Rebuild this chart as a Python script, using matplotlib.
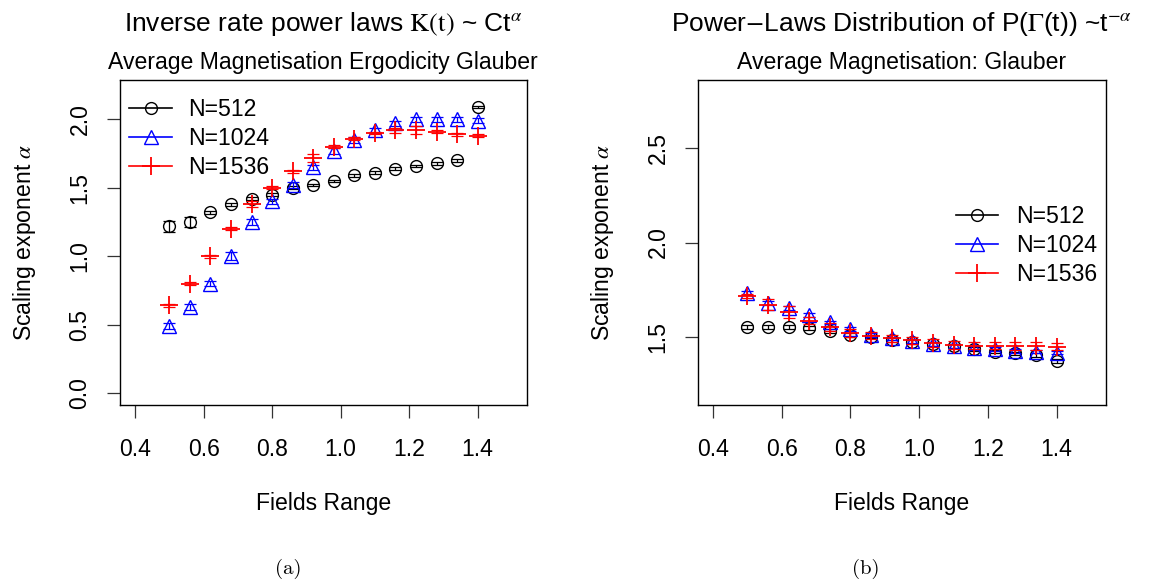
import matplotlib
matplotlib.use("Agg")
import matplotlib.pyplot as plt
import numpy as np

plt.rcParams['font.family'] = ['Liberation Sans', 'DejaVu Sans']
plt.rcParams['mathtext.fontset'] = 'stix'

# ---------------- data ----------------
fields = [0.50, 0.56, 0.62, 0.68, 0.74, 0.80, 0.86, 0.92, 0.98, 1.04, 1.10, 1.16, 1.22, 1.28, 1.34, 1.40]
labels = ["N=512", "N=1024", "N=1536"]

# Panel (a): inverse rate power-law exponents
a_512 = [1.22, 1.25, 1.32, 1.38, 1.42, 1.45, 1.50, 1.52, 1.55, 1.59, 1.61, 1.64, 1.66, 1.68, 1.70, 2.09]
a_512_err = [0.04, 0.04, 0.01, 0.01, 0.01, 0.01, 0.01, 0.01, 0.01, 0.01, 0.01, 0.01, 0.01, 0.01, 0.01, 0.01]
a_1024 = [0.49, 0.63, 0.80, 1.00, 1.25, 1.40, 1.52, 1.65, 1.77, 1.85, 1.92, 1.97, 2.00, 2.00, 2.00, 1.99]
a_1024_err = [0.02, 0.02, 0.02, 0.03, 0.02, 0.02, 0.02, 0.02, 0.02, 0.02, 0.02, 0.02, 0.02, 0.02, 0.02, 0.02]
a_1536 = [0.64, 0.80, 1.00, 1.20, 1.38, 1.50, 1.62, 1.72, 1.80, 1.86, 1.90, 1.92, 1.92, 1.91, 1.89, 1.88]
a_1536_err = [0.01, 0.01, 0.01, 0.01, 0.02, 0.01, 0.01, 0.03, 0.01, 0.01, 0.01, 0.02, 0.03, 0.01, 0.01, 0.01]

# Panel (b): power-law distribution exponents
b_512 = [1.55, 1.55, 1.55, 1.545, 1.53, 1.51, 1.50, 1.48, 1.47, 1.46, 1.45, 1.435, 1.42, 1.41, 1.40, 1.37]
b_512_err = [0.01] * 16
b_1024 = [1.73, 1.68, 1.65, 1.615, 1.575, 1.54, 1.51, 1.49, 1.475, 1.46, 1.45, 1.44, 1.435, 1.425, 1.42, 1.415]
b_1024_err = [0.01] * 16
b_1536 = [1.715, 1.67, 1.63, 1.585, 1.55, 1.52, 1.505, 1.49, 1.48, 1.465, 1.455, 1.452, 1.452, 1.451, 1.449, 1.447]
b_1536_err = [0.01, 0.03, 0.03, 0.02, 0.02, 0.02, 0.02, 0.02, 0.02, 0.02, 0.02, 0.02, 0.02, 0.02, 0.02, 0.02]

xticks = [0.4, 0.6, 0.8, 1.0, 1.2, 1.4]
a_yticks = [0.0, 0.5, 1.0, 1.5, 2.0]
b_yticks = [1.5, 2.0, 2.5]

# ---------------- figure ----------------
W, H = 1154, 580
fig = plt.figure(figsize=(W / 100, H / 100), dpi=100)

def px_axes(l, t, r, b):
    return fig.add_axes([l / W, 1 - b / H, (r - l) / W, (b - t) / H])

styles = [
    dict(color='black', marker='o', ms=8.5, mfc='none', mew=1.0),
    dict(color='blue', marker='^', ms=10.5, mfc='none', mew=1.0),
    dict(color='red', marker='+', ms=13, mew=1.3),
]

FS = 16.6

def draw(ax, ys, errs, yticks, ylim):
    handles = []
    for y, e, st in zip(ys, errs, styles):
        ax.errorbar(fields, y, yerr=e, ls='none', color=st['color'], elinewidth=0.9,
                    capsize=4, capthick=0.9, marker=None)
        h, = ax.plot(fields, y, ls='none', **st)
        handles.append(h)
    ax.set_xlim(0.356, 1.544)
    ax.set_ylim(*ylim)
    ax.set_xticks(xticks)
    ax.set_xticklabels([f"{v:.1f}" for v in xticks])
    ax.set_yticks(yticks)
    ax.set_yticklabels([f"{v:.1f}" for v in yticks], rotation=90, va='center')
    ax.tick_params(direction='out', length=9.5, width=0.9, labelsize=FS, pad=14.5, color='#333333')
    ax.tick_params(axis='y', pad=11)
    for s in ax.spines.values():
        s.set_linewidth(1.0)
    ax.set_xlabel("Fields Range", fontsize=FS, labelpad=22)
    ax.set_ylabel(r"Scaling exponent $\alpha$", fontsize=FS, labelpad=22)
    return handles

axa = px_axes(120, 80, 527, 405)
ha = draw(axa, [a_512, a_1024, a_1536], [a_512_err, a_1024_err, a_1536_err], a_yticks, (-0.088, 2.288))
axb = px_axes(698, 80, 1106, 405)
hb = draw(axb, [b_512, b_1024, b_1536], [b_512_err, b_1024_err, b_1536_err], b_yticks, (1.136, 2.864))

leg_handles = []
for st in styles:
    leg_handles.append(plt.Line2D([0], [0], lw=1.2, **st))

axa.legend(leg_handles, labels, loc='upper left', frameon=False, fontsize=FS,
           handlelength=1.85, handletextpad=0.7, labelspacing=0.25, borderaxespad=0.0,
           bbox_to_anchor=(0.0, 0.972))
axb.legend(leg_handles, labels, loc='center right', frameon=False, fontsize=FS,
           handlelength=1.85, handletextpad=0.75, labelspacing=0.25, borderaxespad=0.0,
           bbox_to_anchor=(1.0, 0.49))

# titles
fig.text(323 / W, 1 - 24 / H, r"Inverse rate power laws $\mathrm{K(t)}$ ~ Ct$^{\alpha}$",
         ha='center', va='center', fontsize=19)
fig.text(323 / W, 1 - 63 / H, "Average Magnetisation Ergodicity Glauber",
         ha='center', va='center', fontsize=FS)
fig.text(902 / W, 1 - 24 / H, r"Power$-$Laws Distribution of P($\Gamma$(t)) ~t$^{-\alpha}$",
         ha='center', va='center', fontsize=19)
fig.text(902 / W, 1 - 63 / H, "Average Magnetisation: Glauber",
         ha='center', va='center', fontsize=FS)

# captions
fig.text(288 / W, 1 - 569 / H, "(a)", ha='center', va='center', fontsize=15, family='cmr10')
fig.text(866 / W, 1 - 569 / H, "(b)", ha='center', va='center', fontsize=15, family='cmr10')

fig.savefig("out.png", dpi=100)
